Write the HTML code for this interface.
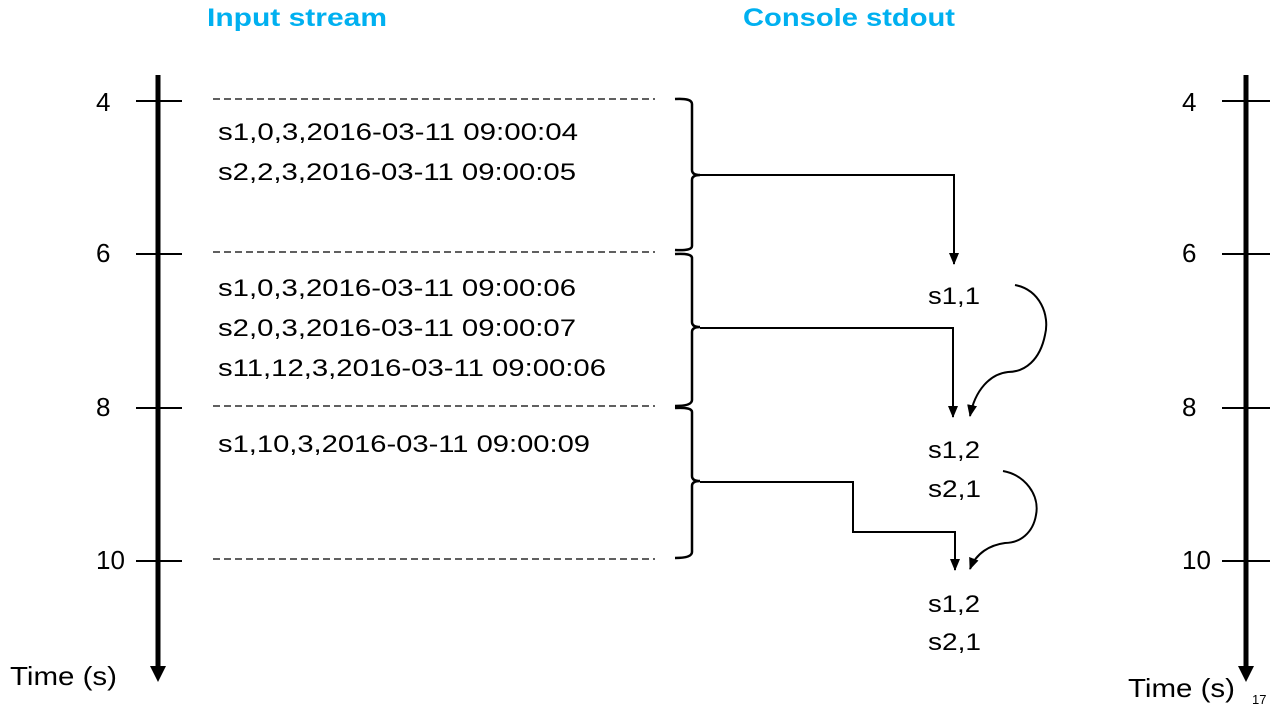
<!DOCTYPE html>
<html><head><meta charset="utf-8"><style>html,body{margin:0;padding:0;background:#fff}svg{display:block}</style></head>
<body>
<svg width="1282" height="713" viewBox="0 0 1282 713" xmlns="http://www.w3.org/2000/svg" font-family="Liberation Sans, sans-serif">
<defs>
<marker id="a" markerWidth="12" markerHeight="10" refX="11" refY="5" orient="auto" markerUnits="userSpaceOnUse"><path d="M0,0 L12,5 L0,10 z" fill="#000"/></marker>
</defs>
<text x="207" y="26" font-size="25" font-weight="bold" fill="#00B0F0" textLength="180" lengthAdjust="spacingAndGlyphs">Input stream</text>
<text x="743" y="26" font-size="25" font-weight="bold" fill="#00B0F0" textLength="212" lengthAdjust="spacingAndGlyphs">Console stdout</text>
<line x1="158" y1="75" x2="158" y2="668" stroke="#000" stroke-width="5"/>
<path d="M150,666 L166,666 L158,682 z" fill="#000"/>
<line x1="1246" y1="75" x2="1246" y2="668" stroke="#000" stroke-width="5"/>
<path d="M1238,666 L1254,666 L1246,682 z" fill="#000"/>
<g stroke="#000" stroke-width="2">
<line x1="136" y1="101" x2="182" y2="101"/><line x1="136" y1="254" x2="182" y2="254"/>
<line x1="136" y1="408" x2="182" y2="408"/><line x1="136" y1="561" x2="182" y2="561"/>
<line x1="1222" y1="101" x2="1270" y2="101"/><line x1="1222" y1="254" x2="1270" y2="254"/>
<line x1="1222" y1="408" x2="1270" y2="408"/><line x1="1222" y1="561" x2="1270" y2="561"/>
</g>
<g stroke="#000" stroke-width="1.3" stroke-dasharray="7,4">
<line x1="213" y1="99" x2="655" y2="99"/><line x1="213" y1="252" x2="655" y2="252"/>
<line x1="213" y1="406" x2="655" y2="406"/><line x1="213" y1="559" x2="655" y2="559"/>
</g>
<g font-size="26" fill="#000">
<text x="96" y="111">4</text><text x="96" y="262">6</text><text x="96" y="416">8</text><text x="96" y="569">10</text>
<text x="1182" y="111">4</text><text x="1182" y="262">6</text><text x="1182" y="416">8</text><text x="1182" y="569">10</text>
<text x="10" y="685" textLength="107" lengthAdjust="spacingAndGlyphs">Time (s)</text>
<text x="1128" y="697" textLength="107" lengthAdjust="spacingAndGlyphs">Time (s)</text>
<text x="1252" y="704" font-size="13">17</text>
</g>
<g font-size="24" fill="#000">
<text x="218" y="140" textLength="360" lengthAdjust="spacingAndGlyphs">s1,0,3,2016-03-11 09:00:04</text>
<text x="218" y="180" textLength="358" lengthAdjust="spacingAndGlyphs">s2,2,3,2016-03-11 09:00:05</text>
<text x="218" y="296" textLength="358" lengthAdjust="spacingAndGlyphs">s1,0,3,2016-03-11 09:00:06</text>
<text x="218" y="336" textLength="358" lengthAdjust="spacingAndGlyphs">s2,0,3,2016-03-11 09:00:07</text>
<text x="218" y="376" textLength="388" lengthAdjust="spacingAndGlyphs">s11,12,3,2016-03-11 09:00:06</text>
<text x="218" y="452" textLength="372" lengthAdjust="spacingAndGlyphs">s1,10,3,2016-03-11 09:00:09</text>
<text x="928" y="304" textLength="52" lengthAdjust="spacingAndGlyphs">s1,1</text>
<text x="928" y="458" textLength="52" lengthAdjust="spacingAndGlyphs">s1,2</text>
<text x="928" y="497" textLength="53" lengthAdjust="spacingAndGlyphs">s2,1</text>
<text x="928" y="612" textLength="52" lengthAdjust="spacingAndGlyphs">s1,2</text>
<text x="928" y="650" textLength="53" lengthAdjust="spacingAndGlyphs">s2,1</text>
</g>
<g fill="none" stroke="#000" stroke-width="2.5">
<path d="M675,99 Q692,98 692,104 L692,170 Q692,175 700,175 Q692,175 692,180 L692,246 Q692,251 675,250"/>
<path d="M675,254 Q692,253 692,258 L692,322 Q692,327 700,327 Q692,327 692,332 L692,400 Q692,406 675,406"/>
<path d="M675,408 Q692,407 692,412 L692,476 Q692,481 700,481 Q692,481 692,486 L692,552 Q692,558 675,558"/>
</g>
<g fill="none" stroke="#000" stroke-width="2">
<path d="M700,175 L954,175 L954,264" marker-end="url(#a)"/>
<path d="M700,328 L953,328 L953,417" marker-end="url(#a)"/>
<path d="M700,482 L853,482 L853,532 L955,532 L955,570" marker-end="url(#a)"/>
<path d="M1015,285 C1040,290 1050,315 1045,335 C1040,360 1025,372 1008,372 C990,374 975,390 970,416" marker-end="url(#a)"/>
<path d="M1003,471 C1025,475 1040,495 1036,515 C1033,533 1020,543 1005,543 C990,545 976,553 970,569" marker-end="url(#a)"/>
</g>
</svg>
</body></html>
